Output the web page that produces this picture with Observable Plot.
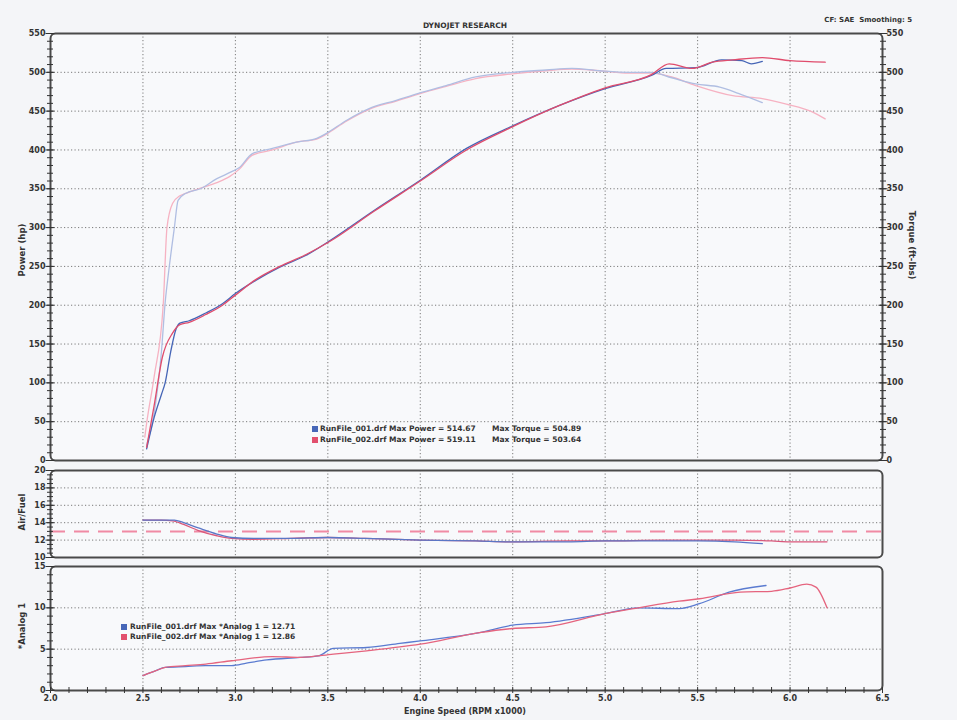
<!DOCTYPE html>
<html><head><meta charset="utf-8">
<script src="https://cdn.jsdelivr.net/npm/d3@7"></script>
<script src="https://cdn.jsdelivr.net/npm/@observablehq/plot@0.6"></script>
<style>
body{margin:0;background:#f4f5f8;}
#wrap{position:relative;width:957px;height:720px;overflow:hidden;background:#f4f5f8;font-family:"DejaVu Sans",sans-serif;}
.abs{position:absolute;white-space:pre;font-weight:bold;color:#333;line-height:1;}
.sq{position:absolute;width:6px;height:6px;}
</style></head><body><div id="wrap"></div>
<script>
// ---------- DATA ----------
const xTicksMajor = [2.0, 2.5, 3.0, 3.5, 4.0, 4.5, 5.0, 5.5, 6.0, 6.5];
const xGridLines = [2.5, 3.0, 3.5, 4.0, 4.5, 5.0, 5.5, 6.0];

// Power (hp)
const pow1Rpm = [2.52,2.56,2.60,2.62,2.65,2.68,2.70,2.75,2.84,2.93,3.00,3.11,3.24,3.38,3.51,3.75,4.00,4.25,4.50,4.75,5.00,5.25,5.33,5.49,5.63,5.74,5.79,5.85];
const pow1Hp  = [15,55,85,100,140,170,177,180,190,202,215,232,249,264,283,322,361,402,431,457,479,496,505,506,516,515,511,514];
const pow2Rpm = [2.52,2.56,2.605,2.66,2.70,2.75,2.84,2.93,3.00,3.11,3.24,3.38,3.51,3.75,4.00,4.25,4.50,4.75,5.00,5.25,5.346,5.47,5.58,5.69,5.85,6.00,6.19];
const pow2Hp  = [17,70,133,164,175,178,188,200,213,233,250,265,282,321,360,400,430,457,480,497,511,505,513,516,519,515,513];

// Torque (ft-lbs)
const tq1Rpm = [2.52,2.56,2.60,2.62,2.64,2.67,2.69,2.73,2.81,2.90,2.98,3.02,3.09,3.20,3.33,3.44,3.49,3.60,3.72,3.87,3.99,4.14,4.30,4.50,4.68,4.82,4.97,5.13,5.25,5.36,5.49,5.62,5.72,5.85];
const tq1Val = [20,60,140,203,245,300,335,344,350,363,372,377,395,402,410,415,421,438,453,464,473,483,494,500,503,505,502,500,500,493,485,481,473,461];
const tq2Rpm = [2.51,2.52,2.56,2.61,2.63,2.66,2.70,2.73,2.80,2.90,2.97,3.02,3.09,3.20,3.33,3.44,3.49,3.60,3.72,3.87,3.99,4.14,4.30,4.50,4.68,4.82,4.97,5.13,5.25,5.36,5.49,5.69,5.85,5.98,6.12,6.19];
const tq2Val = [30,48,107,202,300,331,341,344,350,358,366,375,393,400,410,414,420,437,452,463,472,482,492,498,502,504,502,499,499,494,483,470,466,459,449,440];

// Air/Fuel
const afr1Rpm = [2.50,2.60,2.67,2.72,2.80,2.90,2.98,3.10,3.30,3.50,3.70,4.00,4.30,4.50,4.80,5.00,5.30,5.50,5.70,5.85];
const afr1Val = [14.3,14.3,14.3,14.0,13.4,12.7,12.3,12.2,12.2,12.3,12.2,12.0,11.9,11.8,11.8,11.9,11.9,11.9,11.8,11.6];
const afr2Rpm = [2.50,2.60,2.66,2.72,2.80,2.90,2.98,3.10,3.30,3.50,3.70,4.00,4.30,4.50,4.80,5.00,5.30,5.50,5.70,5.90,6.00,6.20];
const afr2Val = [14.3,14.3,14.2,13.8,13.1,12.5,12.2,12.1,12.2,12.3,12.2,12.0,11.9,11.8,11.9,11.9,12.0,12.0,12.0,11.9,11.8,11.8];
const afrTarget = [13.0];

// *Analog 1
const an1Rpm = [2.50,2.57,2.62,2.73,2.84,2.98,3.06,3.17,3.35,3.45,3.53,3.71,3.89,4.00,4.32,4.50,4.68,5.00,5.18,5.40,5.51,5.67,5.87];
const an1Val = [1.8,2.4,2.8,2.9,3.0,3.0,3.3,3.7,4.0,4.2,5.1,5.2,5.7,6.0,7.0,7.9,8.2,9.3,10.0,9.9,10.5,11.9,12.7];
const an2Rpm = [2.50,2.57,2.62,2.73,2.84,2.98,3.20,3.35,3.53,3.71,4.00,4.32,4.50,4.68,5.00,5.18,5.40,5.51,5.73,5.90,6.00,6.09,6.14,6.20];
const an2Val = [1.8,2.4,2.8,3.0,3.2,3.6,4.1,4.0,4.4,4.8,5.6,7.0,7.5,7.7,9.3,10.0,10.8,11.1,11.9,12.0,12.4,12.86,12.5,10.0];

const powTicks = d3.range(0, 551, 50);
const powMinor = d3.range(0, 551, 10);
const afrTicks = [10,12,14,16,18,20];
const afrMinor = d3.range(10, 20.01, 0.5);
const anTicks = [0,5,10,15];
const anMinor = d3.range(0, 16, 1);
const xMinor = d3.range(20, 66).map(d => d / 10);

const legendTop = [
  {file: "RunFile_001.drf", power: "514.67", torque: "504.89", color: "#4767b8"},
  {file: "RunFile_002.drf", power: "519.11", torque: "503.64", color: "#e2506e"}
];
const legendAn = [
  {file: "RunFile_001.drf", max: "12.71", color: "#4767b8"},
  {file: "RunFile_002.drf", max: "12.86", color: "#e2506e"}
];

// ---------- BUILD ----------
const zip = (xs, ys, s) => xs.map((x, i) => ({x, y: ys[i], s}));
const W = 957, ML = 50, MR = 75;
const C = {p1:"#4565b6", p2:"#e04c6c", t1:"#b0bee2", t2:"#f6b2c2", a1:"#5a76c6", a2:"#d9577b", tgt:"#f08aa4", n1:"#5a7bd0", n2:"#e5647e"};
const gridStyle = {stroke:"#7a7a7a", strokeOpacity:1, strokeWidth:1, strokeDasharray:"1.2,2.3"};
const font = {fontFamily:"DejaVu Sans, sans-serif", fontSize:"8px", fontWeight:"bold", color:"#333", background:"transparent", overflow:"visible"};
const frameFill = Plot.frame({fill:"#f8f9fb", stroke:null, rx:5});
const frameLine = Plot.frame({stroke:"#4a4a4a", strokeWidth:2, rx:5});
const tickOpts = {tickFormat: () => "", label: null, stroke:"#333"};

const wrap = document.getElementById("wrap");
function place(svg, top) {
  svg.style.position = "absolute"; svg.style.left = "0px"; svg.style.top = top + "px";
  wrap.appendChild(svg);
}
function txt(s, x, y, size, opts = {}) {
  const d = document.createElement("div");
  d.className = "abs"; d.textContent = s;
  d.style.fontSize = size + "px";
  d.style.left = x + "px"; d.style.top = y + "px";
  let tr = "translate(" + (opts.ax ?? 0) + "%," + (opts.ay ?? -50) + "%)";
  if (opts.rot) tr += " rotate(" + opts.rot + "deg)";
  d.style.transform = tr;
  if (opts.color) d.style.color = opts.color;
  wrap.appendChild(d);
}

// Top panel: power & torque
const topPlot = Plot.plot({
  width: W, height: 470, marginLeft: ML, marginRight: MR, marginTop: 33, marginBottom: 10,
  style: font,
  x: {domain: [2, 6.5], axis: null},
  y: {domain: [0, 550], axis: null},
  marks: [
    frameFill,
    Plot.gridX(xGridLines, gridStyle),
    Plot.gridY(powTicks.filter(d => d > 0 && d < 550), gridStyle),
    Plot.line(zip(tq2Rpm, tq2Val, "t2"), {x:"x", y:"y", stroke:C.t2, strokeWidth:1.3, curve:"monotone-x"}),
    Plot.line(zip(tq1Rpm, tq1Val, "t1"), {x:"x", y:"y", stroke:C.t1, strokeWidth:1.3, curve:"monotone-x"}),
    Plot.line(zip(pow1Rpm, pow1Hp, "p1"), {x:"x", y:"y", stroke:C.p1, strokeWidth:1.3, curve:"monotone-x"}),
    Plot.line(zip(pow2Rpm, pow2Hp, "p2"), {x:"x", y:"y", stroke:C.p2, strokeWidth:1.3, curve:"monotone-x"}),
    frameLine,
    Plot.axisY({anchor:"left", ticks: powMinor, tickSize: 6, dx: 3, ...tickOpts}),
    Plot.axisY({anchor:"left", ticks: powTicks, tickSize: 9, dx: 4.5, ...tickOpts}),
    Plot.axisY({anchor:"left", ticks: powTicks, tickSize: 0, tickPadding: 5, label: null, fill:"#333"}),
    Plot.axisY({anchor:"right", ticks: powMinor, tickSize: 6, dx: -3, ...tickOpts}),
    Plot.axisY({anchor:"right", ticks: powTicks, tickSize: 9, dx: -4.5, ...tickOpts}),
    Plot.axisY({anchor:"right", ticks: powTicks, tickSize: 0, tickPadding: 4, label: null, fill:"#333"})
  ]
});
place(topPlot, 0);

// Middle panel: Air/Fuel
const midPlot = Plot.plot({
  width: W, height: 102, marginLeft: ML, marginRight: MR, marginTop: 10, marginBottom: 5,
  style: font,
  x: {domain: [2, 6.5], axis: null},
  y: {domain: [10, 20], axis: null},
  marks: [
    frameFill,
    Plot.gridX(xGridLines, gridStyle),
    Plot.gridY([12,14,16,18], gridStyle),
    Plot.ruleY(afrTarget, {stroke:C.tgt, strokeWidth:2, strokeDasharray:"15,9"}),
    Plot.line(zip(afr2Rpm, afr2Val, "a2"), {x:"x", y:"y", stroke:C.a2, strokeWidth:1.3, curve:"monotone-x"}),
    Plot.line(zip(afr1Rpm, afr1Val, "a1"), {x:"x", y:"y", stroke:C.a1, strokeWidth:1.3, curve:"monotone-x"}),
    frameLine,
    Plot.axisY({anchor:"left", ticks: afrMinor, tickSize: 6, dx: 3, ...tickOpts}),
    Plot.axisY({anchor:"left", ticks: afrTicks, tickSize: 9, dx: 4.5, ...tickOpts}),
    Plot.axisY({anchor:"left", ticks: afrTicks, tickSize: 0, tickPadding: 5, label: null, fill:"#333"})
  ]
});
place(midPlot, 460);

// Bottom panel: *Analog 1
const botPlot = Plot.plot({
  width: W, height: 163, marginLeft: ML, marginRight: MR, marginTop: 9, marginBottom: 30,
  style: font,
  x: {domain: [2, 6.5], axis: null},
  y: {domain: [0, 15], axis: null},
  marks: [
    frameFill,
    Plot.gridX(xGridLines, gridStyle),
    Plot.gridY([5, 10], gridStyle),
    Plot.line(zip(an1Rpm, an1Val, "n1"), {x:"x", y:"y", stroke:C.n1, strokeWidth:1.3, curve:"monotone-x"}),
    Plot.line(zip(an2Rpm, an2Val, "n2"), {x:"x", y:"y", stroke:C.n2, strokeWidth:1.3, curve:"monotone-x"}),
    frameLine,
    Plot.axisY({anchor:"left", ticks: anMinor, tickSize: 6, dx: 3, ...tickOpts}),
    Plot.axisY({anchor:"left", ticks: anTicks, tickSize: 9, dx: 4.5, ...tickOpts}),
    Plot.axisY({anchor:"left", ticks: anTicks, tickSize: 0, tickPadding: 5, label: null, fill:"#333"}),
    Plot.axisX({anchor:"bottom", ticks: xMinor, tickSize: 6, dy: -3, ...tickOpts}),
    Plot.axisX({anchor:"bottom", ticks: xTicksMajor, tickSize: 0, tickPadding: 5, label: null, fill:"#333", tickFormat: d3.format(".1f")})
  ]
});
place(botPlot, 557);

// Texts
txt("DYNOJET RESEARCH", 465, 26, 7.5, {ax:-50});
txt("CF: SAE  Smoothing: 5", 912, 20, 7, {ax:-100});
txt("Power (hp)", 22, 250, 8.5, {ax:-50, rot:-90});
txt("Torque (ft-lbs)", 912, 245, 8.5, {ax:-50, rot:90});
txt("Air/Fuel", 22, 512, 8.5, {ax:-50, rot:-90});
txt("*Analog 1", 22, 626, 8.5, {ax:-50, rot:-90});
txt("Engine Speed (RPM x1000)", 465, 712, 8, {ax:-50});

legendTop.forEach((d, i) => {
  const y = 429 + i * 11;
  const s = document.createElement("div"); s.className = "sq";
  s.style.left = "312px"; s.style.top = (y - 3) + "px"; s.style.background = d.color;
  wrap.appendChild(s);
  txt(d.file + " Max Power = " + d.power, 320, y, 7.5);
  txt("Max Torque = " + d.torque, 492, y, 7.5);
});
legendAn.forEach((d, i) => {
  const y = 627 + i * 10;
  const s = document.createElement("div"); s.className = "sq";
  s.style.left = "121px"; s.style.top = (y - 3) + "px"; s.style.background = d.color;
  wrap.appendChild(s);
  txt(d.file + " Max *Analog 1 = " + d.max, 130, y, 7.5);
});
</script></body></html>
